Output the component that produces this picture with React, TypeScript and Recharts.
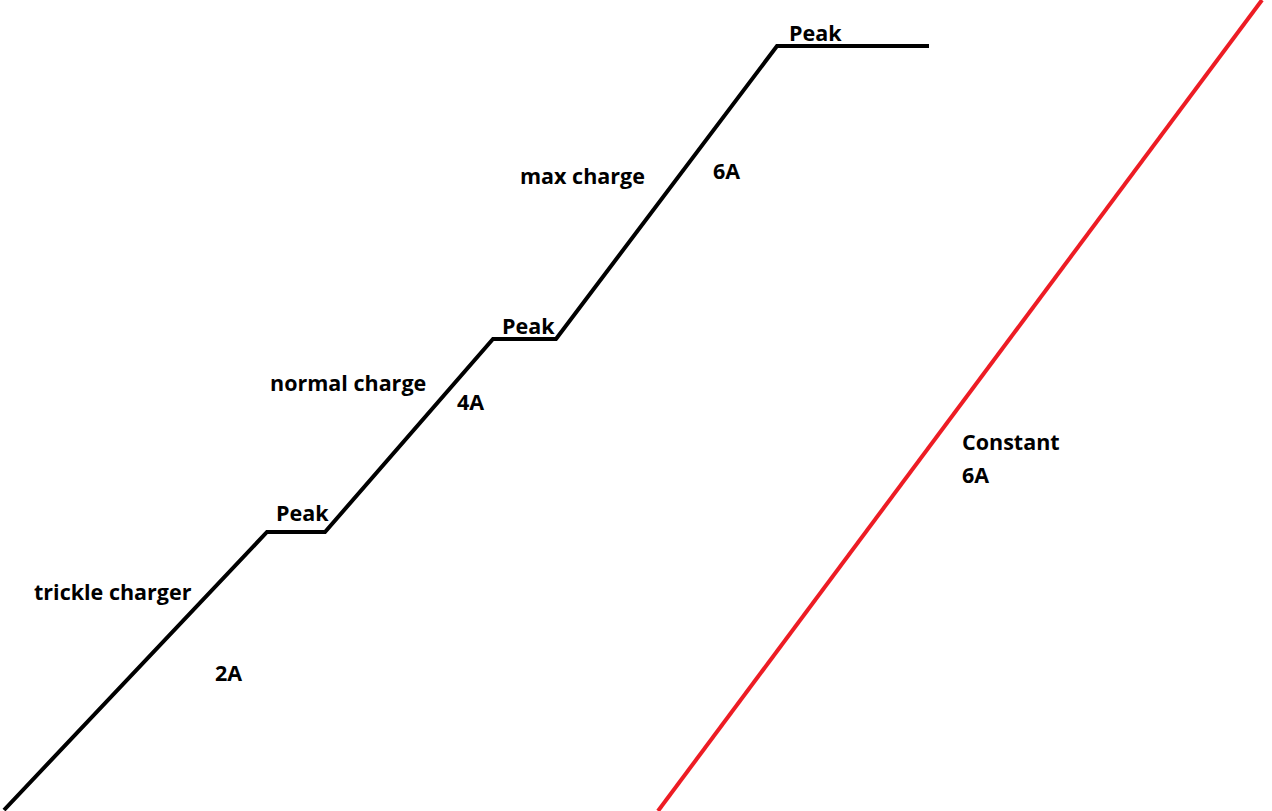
import React from 'react';
import { LineChart, Line, XAxis, YAxis, ReferenceDot } from 'recharts';

// charge curve, x = time, y = charge level (both in drawing units)
const stepTime = [4, 267, 325, 493, 556, 777, 929];
const stepLevel = [1, 279, 279, 472, 472, 765, 765];

const constTime = [658, 1262];
const constLevel = [0, 811];

const labelText = [
  'trickle charger',
  '2A',
  'Peak',
  'normal charge',
  '4A',
  'Peak',
  'max charge',
  '6A',
  'Peak',
  'Constant',
  '6A',
];
const labelTime = [34, 215, 276, 270, 457, 502, 520, 713, 789, 962, 962];
const labelLevel = [211, 130, 290, 420, 401, 477, 627, 632, 770, 361, 328];

const stepData = stepTime.map((t, i) => ({ t, level: stepLevel[i] }));
const constData = constTime.map((t, i) => ({ t, level: constLevel[i] }));

const W = 1272;
const H = 811;

const renderLabel = (text: string) => (props: any) => (
  <text
    x={props.cx}
    y={props.cy}
    textAnchor="start"
    fontFamily="'Open Sans', sans-serif"
    fontWeight={700}
    fontSize={21.5}
    fill="#000"
  >
    {text}
  </text>
);

export default function App() {
  return (
    <div style={{ position: 'absolute', left: 0, top: 0, width: W, height: H, background: '#fff' }}>
      <LineChart width={W} height={H} margin={{ top: 0, right: 0, bottom: 0, left: 0 }}>
        <XAxis type="number" dataKey="t" domain={[0, W]} hide allowDataOverflow />
        <YAxis type="number" dataKey="level" domain={[0, H]} hide allowDataOverflow />
        <Line
          data={stepData}
          dataKey="level"
          type="linear"
          stroke="#000"
          strokeWidth={4}
          strokeLinejoin="miter"
          dot={false}
          activeDot={false}
          isAnimationActive={false}
        />
        <Line
          data={constData}
          dataKey="level"
          type="linear"
          stroke="#ED1C24"
          strokeWidth={4}
          dot={false}
          activeDot={false}
          isAnimationActive={false}
        />
        {labelText.map((txt, i) => (
          <ReferenceDot
            key={i}
            x={labelTime[i]}
            y={labelLevel[i]}
            r={0}
            ifOverflow="visible"
            shape={renderLabel(txt)}
          />
        ))}
      </LineChart>
    </div>
  );
}
